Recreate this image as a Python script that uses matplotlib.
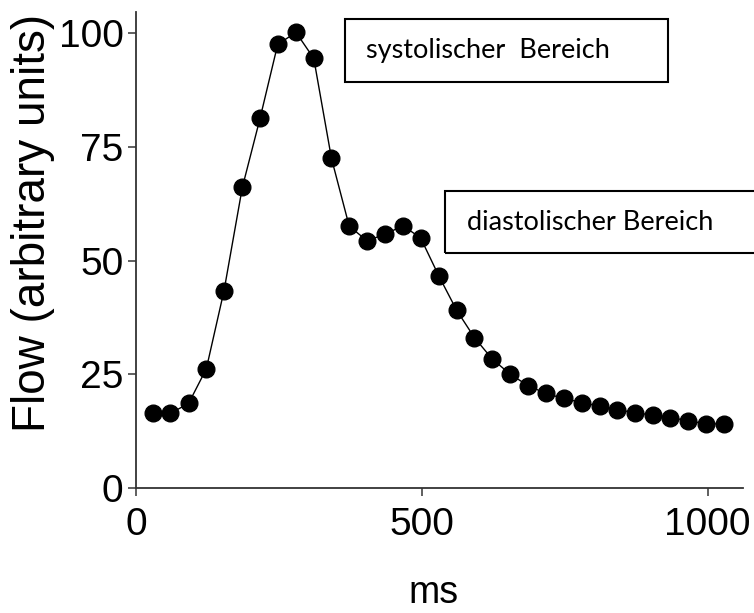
import matplotlib
matplotlib.use("Agg")
import matplotlib.pyplot as plt
from matplotlib.patches import Rectangle

# Werte
zeit_ms = [29, 60, 92, 123, 154, 186, 217, 248, 280, 311, 342, 373, 404,
           436, 467, 498, 530, 561, 592, 623, 654, 686, 717, 748, 780, 811,
           842, 873, 904, 935, 966, 998, 1029]
fluss = [16.6, 16.4, 18.6, 26.2, 43.4, 66.1, 81.3, 97.6, 100.2, 94.5, 72.5,
         57.6, 54.4, 55.8, 57.7, 55.0, 46.6, 39.1, 33.1, 28.4, 25.1, 22.5,
         20.8, 19.7, 18.8, 18.0, 17.2, 16.6, 16.0, 15.5, 14.8, 14.1, 14.1]
x_ticks = [0, 500, 1000]
y_ticks = [0, 25, 50, 75, 100]
box_texte = ["systolischer  Bereich", "diastolischer Bereich"]

W, H = 754, 613
arial = ["Liberation Sans", "DejaVu Sans"]
calibri = ["Lato", "Noto Sans", "DejaVu Sans"]

fig = plt.figure(figsize=(W / 100, H / 100), dpi=100)
ax = fig.add_axes([136 / W, (H - 488) / H, (743 - 136) / W, (488 - 12) / H])

ax.plot(zeit_ms, fluss, color="black", lw=1.0, marker="o", ms=12,
        markerfacecolor="black", markeredgecolor="black", zorder=3)

ax.set_xlim(0, 1062)
ax.set_ylim(0, 104.7)
ax.set_xticks(x_ticks)
ax.set_yticks(y_ticks)
for s in ["top", "right"]:
    ax.spines[s].set_visible(False)
for s in ["left", "bottom"]:
    ax.spines[s].set_color("#333333")
    ax.spines[s].set_linewidth(1.3)
ax.tick_params(length=6, width=1.2, color="#444444")
ax.tick_params(axis="x", pad=8)
ax.tick_params(axis="y", pad=3)
for lab in ax.get_xticklabels() + ax.get_yticklabels():
    lab.set_family(arial)
    lab.set_fontsize(28)

ax.set_ylabel("Flow (arbitrary units)", family=arial, fontsize=33)
ax.yaxis.set_label_coords(-0.134, 0.556)
ax.set_xlabel("ms", family=arial, fontsize=27)
ax.xaxis.set_label_coords(0.491, -0.182)

# Kästen mit Beschriftung (Pixelkoordinaten)
boxen = [(345, 19, 668, 82), (445, 191, 760, 253)]
text_x = [366, 467]
for (x0, y0, x1, y1), txt, tx in zip(boxen, box_texte, text_x):
    fig.patches.append(Rectangle((x0 / W, 1 - y1 / H), (x1 - x0) / W,
                                 (y1 - y0) / H, transform=fig.transFigure,
                                 fill=False, edgecolor="black", lw=1.5))
    fig.text(tx / W, 1 - (y0 + y1) / 2 / H, txt, family=calibri,
             fontsize=19.5, ha="left", va="center")

fig.savefig("out.png", dpi=100)
